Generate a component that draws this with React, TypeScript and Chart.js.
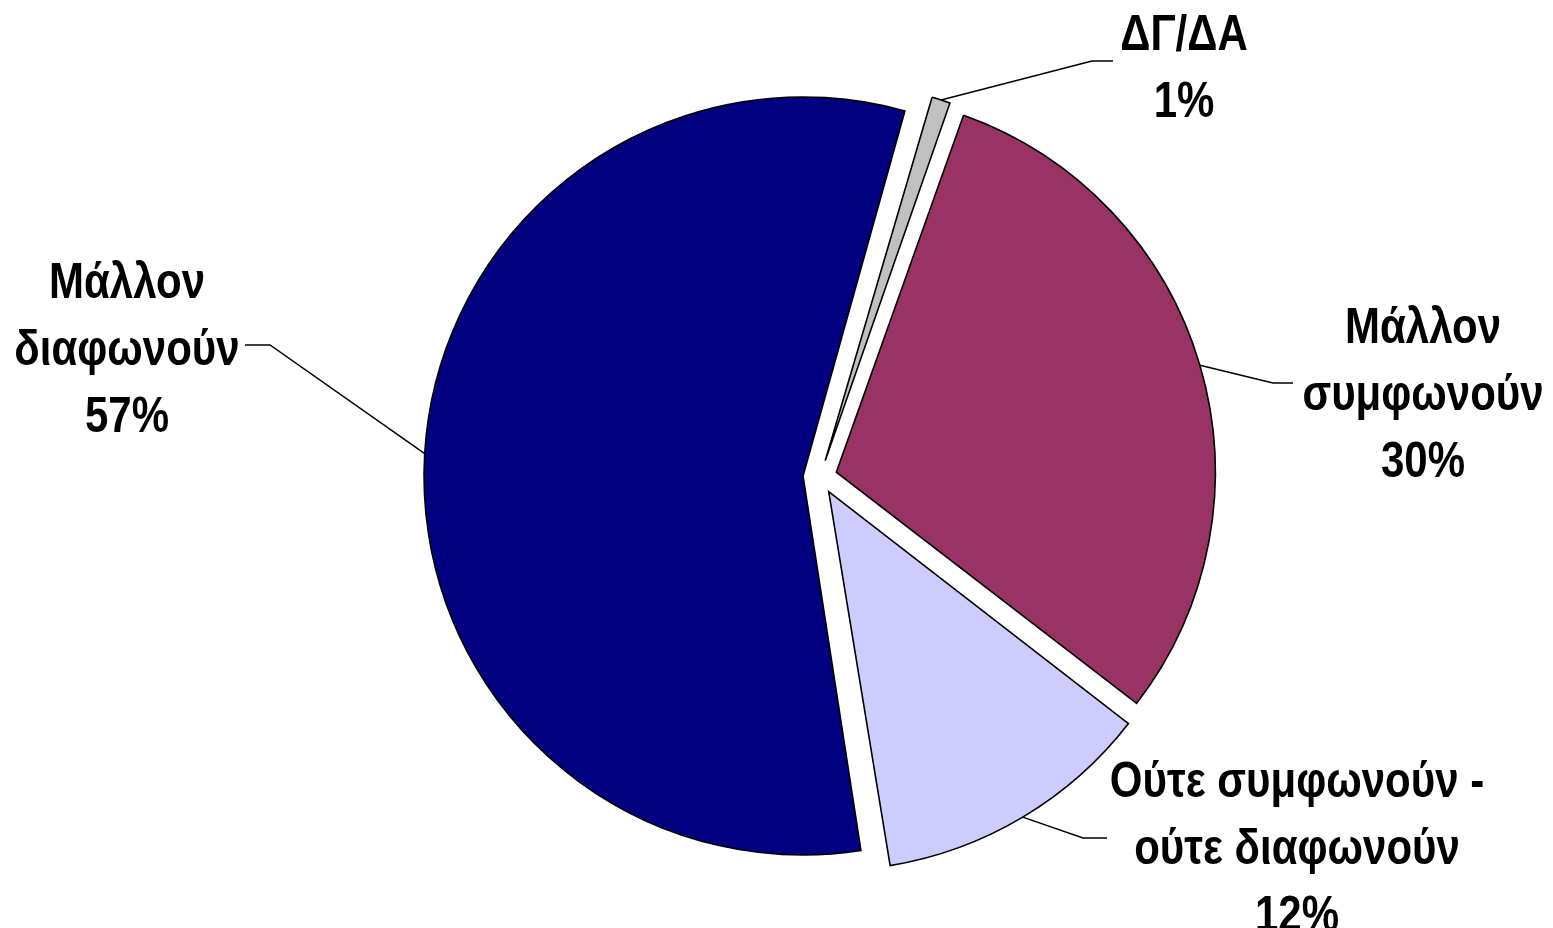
import React, { useEffect, useRef } from "react";
import { Chart, registerables } from "chart.js";

Chart.register(...registerables);

const categories = ["ΔΓ/ΔΑ", "Μάλλον συμφωνούν", "Ούτε συμφωνούν - ούτε διαφωνούν", "Μάλλον διαφωνούν"];
const values = [1, 30, 12, 57];
const labelLines = [["ΔΓ/ΔΑ"], ["Μάλλον", "συμφωνούν"], ["Ούτε συμφωνούν -", "ούτε διαφωνούν"], ["Μάλλον", "διαφωνούν"]];
const colors = ["#C0C0C0", "#993366", "#CCCCFF", "#000080"];

const W = 1553;
const H = 928;
const RADIUS = 379;
const OFFSET = 68; // chart.js translates by offset/4
const FONT = 'bold 50px "Liberation Sans Narrow", "Arial Narrow", "Liberation Sans", Arial, sans-serif';
const NARROW = 0.84;
const LINE_H = 67;

// annotation layout: text center x, first baseline y, elbow point, horizontal end
const labelLayout = [
  { cx: 1184, by: 50, ex: 1092, ey: 61, hx: 1113 },
  { cx: 1423, by: 343, ex: 1273, ey: 383, hx: 1293 },
  { cx: 1297, by: 797, ex: 1083, ey: 838, hx: 1107 },
  { cx: 127, by: 298, ex: 270, ey: 345, hx: 245 },
];

const fixRadiusPlugin = {
  id: "fixRadius",
  beforeDatasetsDraw(chart: any) {
    const meta = chart.getDatasetMeta(0);
    meta.data.forEach((el: any) => {
      const circ = el.endAngle - el.startAngle;
      const fix = 1 - Math.sin(Math.min(Math.PI, circ));
      el.outerRadius = RADIUS - (OFFSET / 4) * fix;
    });
  },
};

const labelPlugin = {
  id: "pieLabels",
  afterDraw(chart: any) {
    const ctx = chart.ctx;
    const meta = chart.getDatasetMeta(0);
    ctx.save();
    meta.data.forEach((el: any, i: number) => {
      const mid = (el.startAngle + el.endAngle) / 2;
      const r = RADIUS + OFFSET / 4;
      const sx = el.x + Math.cos(mid) * r;
      const sy = el.y + Math.sin(mid) * r;
      const L = labelLayout[i];
      ctx.strokeStyle = "#000";
      ctx.lineWidth = 1.5;
      ctx.beginPath();
      ctx.moveTo(sx, sy);
      ctx.lineTo(L.ex, L.ey);
      ctx.lineTo(L.hx, L.ey);
      ctx.stroke();
      ctx.fillStyle = "#000";
      ctx.font = FONT;
      ctx.textAlign = "center";
      ctx.textBaseline = "alphabetic";
      const lines = [...labelLines[i], values[i] + "%"];
      lines.forEach((t, k) => {
        ctx.save();
        ctx.translate(L.cx, L.by + k * LINE_H);
        ctx.scale(NARROW, 1);
        ctx.fillText(t, 0, 0);
        ctx.restore();
      });
    });
    ctx.restore();
  },
};

export default function App() {
  const ref = useRef<HTMLCanvasElement>(null);
  useEffect(() => {
    const chart = new Chart(ref.current as HTMLCanvasElement, {
      type: "pie",
      data: {
        labels: categories,
        datasets: [
          {
            data: values,
            backgroundColor: colors,
            borderColor: "#000",
            borderWidth: 1.6,
            borderJoinStyle: "miter",
            offset: OFFSET,
            hoverOffset: 0,
          } as any,
        ],
      },
      options: {
        responsive: false,
        animation: false,
        rotation: 16,
        radius: RADIUS,
        layout: { padding: { left: 87, top: 26, right: 0, bottom: 0 } },
        plugins: { legend: { display: false }, tooltip: { enabled: false } },
        events: [],
      } as any,
      plugins: [fixRadiusPlugin, labelPlugin],
    });
    return () => chart.destroy();
  }, []);
  return (
    <div style={{ position: "absolute", left: 0, top: 0, width: W, height: H, background: "#fff" }}>
      <canvas ref={ref} width={W} height={H} style={{ display: "block" }} />
    </div>
  );
}
